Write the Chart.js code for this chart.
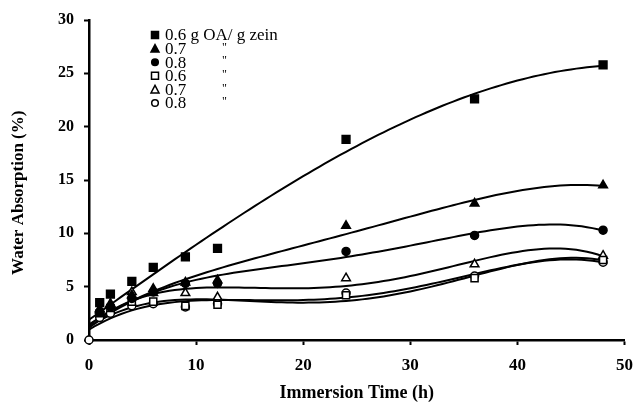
<!DOCTYPE html>
<html>
<head>
<meta charset="utf-8">
<script src="https://cdn.jsdelivr.net/npm/chart.js@4.4.1/dist/chart.umd.min.js"></script>
<style>
  html, body { margin: 0; padding: 0; background: #fff; }
</style>
</head>
<body>
<canvas id="chart" width="643" height="410"></canvas>
<script>
// immersion times (h) and water absorption (%) for each OA loading
const times = [0, 1, 2, 4, 6, 9, 12, 24, 36, 48];
const filled06 = [0, 3.5, 4.3, 5.5, 6.8, 7.8, 8.6, 18.8, 22.6, 25.8];
const filled07 = [0, 2.9, 3.4, 4.2, 4.8, 5.4, 5.6, 10.7, 12.8, 14.5];
const filled08 = [0, 2.6, 3.1, 3.9, 4.5, 5.3, 5.3, 8.3, 9.8, 10.3];
const open06 = [0, 2.5, 3.0, 3.6, 3.6, 3.2, 3.3, 4.2, 5.8, 7.5];
const open07 = [0, 2.8, 3.3, 4.5, 4.4, 4.4, 4.0, 5.8, 7.1, 7.9];
const open08 = [0, 2.1, 2.5, 3.2, 3.4, 3.1, 3.4, 4.4, 6.0, 7.3];

const seriesLabels = ['0.6 g OA/ g zein', '0.7', '0.8', '0.6', '0.7', '0.8'];
const xTicks = [0, 10, 20, 30, 40, 50];
const yTicks = [0, 5, 10, 15, 20, 25, 30];

const serif = "'Liberation Serif', 'Times New Roman', serif";

// least squares polynomial fit (same as a spreadsheet polynomial trendline)
function polyFit(xs, ys, degree) {
    const n = degree + 1;
    const a = [];
    for (let r = 0; r < n; r++) {
        a.push(new Array(n + 1).fill(0));
        for (let c = 0; c < n; c++) {
            xs.forEach(x => { a[r][c] += Math.pow(x / 10, r + c); });
        }
        xs.forEach((x, i) => { a[r][n] += ys[i] * Math.pow(x / 10, r); });
    }
    for (let p = 0; p < n; p++) {
        let best = p;
        for (let r = p + 1; r < n; r++) {
            if (Math.abs(a[r][p]) > Math.abs(a[best][p])) best = r;
        }
        [a[p], a[best]] = [a[best], a[p]];
        for (let r = 0; r < n; r++) {
            if (r === p) continue;
            const f = a[r][p] / a[p][p];
            for (let c = p; c <= n; c++) a[r][c] -= f * a[p][c];
        }
    }
    return a.map((row, i) => row[n] / row[i]);
}

function trendPoints(ys, degree) {
    const coef = polyFit(times, ys, degree);
    const pts = [];
    for (let t = 0; t <= 48; t += 0.5) {
        let v = 0;
        coef.forEach((c, i) => { v += c * Math.pow(t / 10, i); });
        pts.push({ x: t, y: v });
    }
    return pts;
}

const markerSeries = [
    { values: filled06, style: 'rect', fill: '#000', radius: 5.5, degree: 3 },
    { values: filled07, style: 'triangle', fill: '#000', radius: 5, degree: 4 },
    { values: filled08, style: 'circle', fill: '#000', radius: 4, degree: 4 },
    { values: open06, style: 'rect', fill: '#fff', radius: 5, degree: 4 },
    { values: open07, style: 'triangle', fill: '#fff', radius: 5, degree: 4 },
    { values: open08, style: 'circle', fill: '#fff', radius: 4, degree: 4 }
];

const datasets = [];
markerSeries.forEach((s, i) => {
    const last = i === markerSeries.length - 1;
    datasets.push({
        label: seriesLabels[i],
        data: times.map((t, j) => ({ x: t, y: s.values[j] })),
        showLine: false,
        pointStyle: s.style,
        // only one marker is visible at the origin
        pointRadius: ctx => (ctx.raw && ctx.raw.x === 0 && !last) ? 0 : s.radius,
        pointBackgroundColor: s.fill,
        pointBorderColor: '#000',
        pointBorderWidth: 1.5,
        clip: false,
        order: 0
    });
});
markerSeries.forEach(s => {
    datasets.push({
        label: '',
        data: trendPoints(s.values, s.degree),
        showLine: true,
        borderColor: '#000',
        borderWidth: 2,
        pointRadius: 0,
        tension: 0,
        order: 1
    });
});

// legend drawn inside the plot, top left
const insideLegend = {
    id: 'insideLegend',
    afterDraw(chart) {
        const ctx = chart.ctx;
        ctx.save();
        ctx.textBaseline = 'middle';
        markerSeries.forEach((s, i) => {
            const y = 35 + i * 13.6;
            const x = 155;
            ctx.beginPath();
            if (s.style === 'rect') {
                ctx.rect(x - 3.5, y - 3.5, 7, 7);
            } else if (s.style === 'triangle') {
                ctx.moveTo(x, y - 4);
                ctx.lineTo(x + 4, y + 3.5);
                ctx.lineTo(x - 4, y + 3.5);
                ctx.closePath();
            } else {
                ctx.arc(x, y, 3.3, 0, Math.PI * 2);
            }
            ctx.fillStyle = s.fill;
            ctx.fill();
            ctx.lineWidth = 1.5;
            ctx.strokeStyle = '#000';
            ctx.stroke();
            ctx.fillStyle = '#000';
            ctx.textAlign = 'left';
            ctx.font = '17px ' + serif;
            ctx.fillText(seriesLabels[i], 165, y + 1);
            if (i > 0) {
                ctx.font = '12px ' + serif;
                ctx.fillText('"', 222, y - 1);
            }
        });
        ctx.restore();
    }
};

new Chart(document.getElementById('chart'), {
    type: 'scatter',
    data: { datasets: datasets },
    options: {
        responsive: false,
        animation: false,
        layout: { padding: { top: 20, right: 11, left: 0, bottom: 0 } },
        plugins: { legend: { display: false }, tooltip: { enabled: false } },
        scales: {
            x: {
                type: 'linear',
                min: 0,
                max: 50,
                afterBuildTicks: scale => { scale.ticks = xTicks.map(v => ({ value: v })); },
                afterFit: scale => { scale.height = 70; },
                ticks: { color: '#000', padding: 10, font: { family: serif, size: 17, weight: 'bold' } },
                grid: { display: true, drawOnChartArea: false, drawTicks: true, tickLength: 5, tickWidth: 2, tickColor: '#000' },
                border: { display: true, color: '#000', width: 2.5 },
                title: {
                    display: true,
                    text: 'Immersion Time (h)',
                    color: '#000',
                    font: { family: serif, size: 18, weight: 'bold' },
                    padding: { top: 0, bottom: 6 }
                }
            },
            y: {
                type: 'linear',
                min: 0,
                max: 30,
                afterBuildTicks: scale => { scale.ticks = yTicks.map(v => ({ value: v })); },
                afterFit: scale => { scale.width = 89; },
                ticks: { color: '#000', padding: 10, font: { family: serif, size: 16, weight: 'bold' } },
                grid: { display: true, drawOnChartArea: false, drawTicks: true, tickLength: 5, tickWidth: 2, tickColor: '#000' },
                border: { display: true, color: '#000', width: 2.5 },
                title: {
                    display: true,
                    text: 'Water Absorption (%)      ',
                    color: '#000',
                    font: { family: serif, size: 17, weight: 'bold' },
                    padding: { top: 8, bottom: 0 }
                }
            }
        }
    },
    plugins: [insideLegend]
});
</script>
</body>
</html>
